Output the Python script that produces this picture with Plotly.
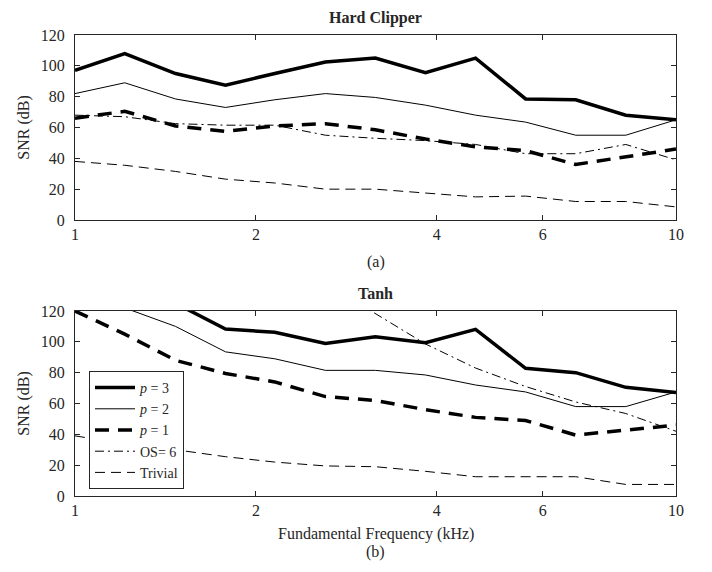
import plotly.graph_objects as go
from plotly.subplots import make_subplots

freq_khz = [1.0, 1.21, 1.47, 1.78, 2.15, 2.61, 3.16, 3.83, 4.64, 5.62, 6.81, 8.25, 10.0]

# Hard Clipper SNR (dB)
hard_p3 = [97, 108, 95, 87.5, 95, 102.5, 105, 95.5, 105, 78.5, 78, 68, 65]
hard_p2 = [82, 89, 78.5, 73, 78, 82, 79.5, 74.5, 68, 63.5, 55, 55, 65]
hard_p1 = [66, 70.5, 61, 57.5, 61, 62.5, 58.5, 52.5, 47.5, 45, 36, 41, 46]
hard_os6 = [68, 67, 62.5, 61.5, 61.5, 55, 53, 51.5, 49, 43, 43, 49, 39]
hard_trivial = [38, 35.5, 31.5, 26.5, 24, 20, 20, 17.5, 15, 15.5, 12, 12, 8.5]

# Tanh SNR (dB)
tanh_p3 = [None, None, 125, 108.3, 106.2, 99, 103.3, 99.4, 108.1, 82.8, 80, 70.5, 67.2]
tanh_p2 = [None, 122, 110, 93.5, 89, 81.5, 81.5, 78.5, 72, 67.5, 58, 58, 67.5]
tanh_p1 = [120, 105, 88, 79.5, 74, 64.5, 62, 56, 51, 49, 39.5, 42.5, 46]
tanh_os6 = [None, None, None, None, None, 138, 118.3, 98.6, 83, 71, 61, 53.5, 42]
tanh_trivial = [39, 34, 30, 25.5, 22, 19.5, 19, 16, 12.5, 12.5, 12.5, 7.5, 7.5]

x_ticks = [1, 2, 4, 6, 10]
y_ticks = [0, 20, 40, 60, 80, 100, 120]

series_names = ["<i>p</i> = 3", "<i>p</i> = 2", "<i>p</i> = 1", "OS= 6", "Trivial"]
styles = [
    dict(width=3.5, dash="solid"),
    dict(width=1, dash="solid"),
    dict(width=3.5, dash="14px,9px"),
    dict(width=1, dash="9px,4px,2px,4px"),
    dict(width=1, dash="10px,6px"),
]

FONT = "Liberation Serif"
fig = make_subplots(rows=2, cols=1, vertical_spacing=0.0)

hard = [hard_p3, hard_p2, hard_p1, hard_os6, hard_trivial]
tanh = [tanh_p3, tanh_p2, tanh_p1, tanh_os6, tanh_trivial]
for name, ys, st in zip(series_names, hard, styles):
    fig.add_trace(go.Scatter(x=freq_khz, y=ys, mode="lines", name=name,
                             line=dict(color="black", **st), showlegend=False),
                  row=1, col=1)
for name, ys, st in zip(series_names, tanh, styles):
    fig.add_trace(go.Scatter(x=freq_khz, y=ys, mode="lines", name=name,
                             line=dict(color="black", **st), showlegend=True,
                             connectgaps=False),
                  row=2, col=1)

H = 461.0
top_lo = (H - 185) / H
bot_hi = 185 / H

axis_common = dict(showline=True, linecolor="#262626", linewidth=1, mirror="ticks",
                   ticks="inside", ticklen=5, tickcolor="#262626", showgrid=False,
                   zeroline=False, automargin=False,
                   tickfont=dict(family=FONT, size=16, color="#262626"))

fig.update_xaxes(type="log", range=[0, 1], tickvals=x_ticks,
                 ticktext=[str(v) for v in x_ticks], **axis_common)
fig.update_yaxes(range=[0, 120], tickvals=y_ticks, ticklabelstandoff=6,
                 title=dict(text="SNR (dB)", font=dict(family=FONT, size=16, color="#262626"),
                            standoff=7), **axis_common)
fig.update_layout(
    yaxis=dict(domain=[top_lo, 1.0]),
    yaxis2=dict(domain=[0.0, bot_hi]),
)

def ann(text, y, size=16, bold=False):
    t = f"<b>{text}</b>" if bold else text
    fig.add_annotation(text=t, x=0.5, y=y, xref="paper", yref="paper",
                       showarrow=False, xanchor="center", yanchor="middle", borderpad=0,
                       font=dict(family=FONT, size=size, color="#262626"))

ann("Hard Clipper", (496 - 18) / H, 16, True)
ann("(a)", (496 - 262) / H, 16)
ann("Tanh", (496 - 293) / H, 16, True)
ann("Fundamental Frequency (kHz)", (496 - 534) / H, 16)
ann("(b)", (496 - 552) / H, 16)

fig.update_layout(
    width=712, height=572,
    margin=dict(l=67, r=44, t=27, b=84, autoexpand=False),
    paper_bgcolor="white", plot_bgcolor="white",
    legend=dict(x=(89 - 75) / 601, y=(496 - 371) / H, xanchor="left", yanchor="top",
                bgcolor="white", bordercolor="#262626", borderwidth=1,
                font=dict(family=FONT, size=14, color="#262626"),
                tracegroupgap=0, itemwidth=40),
    font=dict(family=FONT, color="#262626"),
)

fig.write_html("out.html")
